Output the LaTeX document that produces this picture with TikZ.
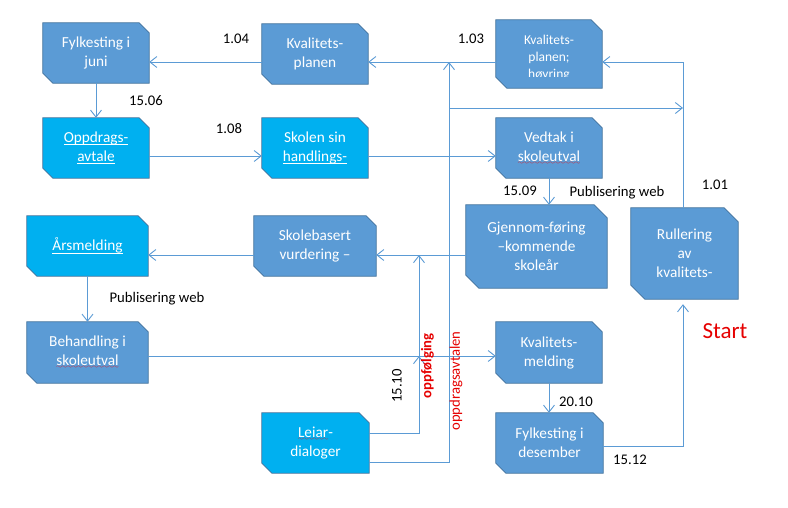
\documentclass[tikz,border=0pt]{standalone}
\usepackage{fontspec}
\setmainfont{Carlito}
\usetikzlibrary{arrows.meta,backgrounds}
\definecolor{bdark}{RGB}{91,155,213}
\definecolor{bcyan}{RGB}{0,176,240}
\definecolor{bline}{RGB}{65,113,156}
\definecolor{cline}{RGB}{91,155,213}
\definecolor{sred}{RGB}{230,0,0}
\font\mywavefont=lasy6
\newcommand\myul[1]{\setbox0=\hbox{#1}\rlap{\vrule height -2.2pt depth 3.1pt width \wd0}\box0}
\newcommand\redwave[1]{\setbox0=\hbox{#1}\rlap{\textcolor{red}{\lower3pt\hbox to \wd0{\xleaders\hbox{\mywavefont\char58}\hfil}}}\box0}
\newcommand\snipbg[3]{%
  \begin{pgfonlayer}{background}
  \filldraw[fill=#3, draw=bline, line width=0.8pt]
    (#1.north west) -- ([xshift=-#2]#1.north east) -- ([yshift=-#2]#1.north east)
    -- (#1.south east) -- ([xshift=#2]#1.south west) -- ([yshift=#2]#1.south west) -- cycle;
  \end{pgfonlayer}}
\tikzset{
  box/.style={rectangle, inner sep=0pt, text=white, align=center,
    font=\fontsize{15.3}{19}\selectfont},
  lbl/.style={inner sep=0pt, font=\fontsize{14.7}{17}\selectfont},
  arr/.style={draw=cline, line width=0.9pt, -{Straight Barb[length=7pt,width=11pt]}}
}
\begin{document}
\begin{tikzpicture}[x=1pt,y=-1pt]
\useasboundingbox (0,0) rectangle (788,507);
\begin{pgfonlayer}{background}
\fill[white] (0,0) rectangle (788,507);
\end{pgfonlayer}

% boxes
\node[box, minimum width=106pt, minimum height=60pt] (fj) at (96,53) {Fylkesting i\\juni};
\node[box, minimum width=106pt, minimum height=60pt] (kp) at (315,54) {Kvalitets-\\planen};
\node[box, minimum width=106pt, minimum height=68pt] (kh) at (549,54) {};
\begin{scope}
  \clip (496,20) rectangle (602,76);
  \node[box, font=\fontsize{13.5}{17}\selectfont] (khtext) at (549,58) {Kvalitets-\\planen;\\høyring};
\end{scope}
\node[box, minimum width=106pt, minimum height=60pt] (oa) at (96,148) {\myul{Oppdrags-}\\\myul{avtale}};
\node[box, minimum width=106pt, minimum height=60pt] (sh) at (315,148) {Skolen sin\\\myul{handlings-}};
\node[box, minimum width=106pt, minimum height=60pt] (vs) at (549,148) {Vedtak i\\\redwave{skoleutval}};
\node[box, minimum width=141pt, minimum height=83pt] (gf) at (536.5,246.5) {Gjennom-føring\\–kommende\\skoleår};
\node[box, minimum width=107pt, minimum height=91pt] (ru) at (684.5,253.5) {Rullering\\av\\kvalitets-};
\node[box, minimum width=121pt, minimum height=60pt] (am) at (87.5,246) {\myul{Årsmelding}};
\node[box, minimum width=122pt, minimum height=60pt] (sv) at (315,246) {Skolebasert\\vurdering –};
\node[box, minimum width=121pt, minimum height=61pt] (bs) at (87.5,352.5) {Behandling i\\\redwave{skoleutval}};
\node[box, minimum width=106pt, minimum height=61pt] (km) at (549,352.5) {Kvalitets-\\melding};
\node[box, minimum width=107pt, minimum height=60pt] (fd) at (549.5,443) {Fylkesting i\\desember};
\node[box, minimum width=107pt, minimum height=60pt] (ld) at (315.5,443) {\redwave{Leiar}-\\dialoger};

\snipbg{fj}{10pt}{bdark}
\snipbg{kp}{10pt}{bdark}
\snipbg{kh}{11pt}{bdark}
\snipbg{oa}{10pt}{bcyan}
\snipbg{sh}{10pt}{bcyan}
\snipbg{vs}{10pt}{bdark}
\snipbg{gf}{13pt}{bdark}
\snipbg{ru}{14pt}{bdark}
\snipbg{am}{10pt}{bcyan}
\snipbg{sv}{10pt}{bdark}
\snipbg{bs}{10pt}{bdark}
\snipbg{km}{10pt}{bdark}
\snipbg{fd}{10pt}{bdark}
\snipbg{ld}{10pt}{bcyan}

% helper levels
\coordinate (hA) at (0,62);
\coordinate (hB) at (0,156);
\coordinate (hC) at (0,255);
\coordinate (hD) at (0,356);
\coordinate (hE) at (0,433);
\coordinate (hF) at (0,462);
\coordinate (hG) at (0,108);
\coordinate (hH) at (0,446);
\coordinate (vA) at (449,0);
\coordinate (vB) at (419,0);
\coordinate (vC) at (683,0);

% connectors
\draw[arr] (kp.west |- hA) -- (fj.east |- hA);
\draw[arr] (kh.west |- hA) -- (kp.east |- hA);
\draw[arr] (ld.east |- hF) -| (vA |- hA);
\draw[arr] (vA |- hG) -- (vC |- hG);
\draw[arr] (ru.north -| vC) |- (kh.east |- hA);
\draw[arr, shorten >=5pt] (fd.east |- hH) -| (ru.south -| vC);
\draw[arr] (fj.south) -- (oa.north);
\draw[arr] (oa.east |- hB) -- (sh.west |- hB);
\draw[arr] (sh.east |- hB) -- (vs.west |- hB);
\draw[arr] (vs.south) -- (vs.south |- gf.north);
\draw[arr] (gf.west |- hC) -- (sv.east |- hC);
\draw[arr] (sv.west |- hC) -- (am.east |- hC);
\draw[arr] (am.south) -- (bs.north);
\draw[arr] (bs.east |- hD) -- (km.west |- hD);
\draw[arr] (km.south) -- (km.south |- fd.north);
\draw[arr] (ld.east |- hE) -| (vB |- hD);
\draw[arr] (vB |- hD) -- (vB |- hC);

% labels
\node[lbl] (l104) at (236,39) {1.04};
\node[lbl] (l1506) at (146,101) {15.06};
\node[lbl] (l108) at (229,129) {1.08};
\node[lbl] (l103) at (471,39) {1.03};
\node[lbl] (l1509) at (520,191) {15.09};
\node[lbl] (lpub1) at (617,193) {Publisering web};
\node[lbl] (l101) at (715,185) {1.01};
\node[lbl] (lpub2) at (157,299) {Publisering web};
\node[lbl, text=sred, font=\fontsize{23}{26}\selectfont] (lstart) at (725,331) {Start};
\node[lbl] (l2010) at (576,402) {20.10};
\node[lbl] (l1512) at (630,460) {15.12};
\node[lbl, rotate=90] (l1510) at (397,386) {15.10};
\node[lbl, rotate=90, text=sred, font=\fontsize{14.7}{17}\selectfont\bfseries] (lopp) at (427.5,366) {oppfølging};
\node[lbl, rotate=90, text=sred] (loppd) at (456,381) {oppdragsavtalen};
\end{tikzpicture}
\end{document}
